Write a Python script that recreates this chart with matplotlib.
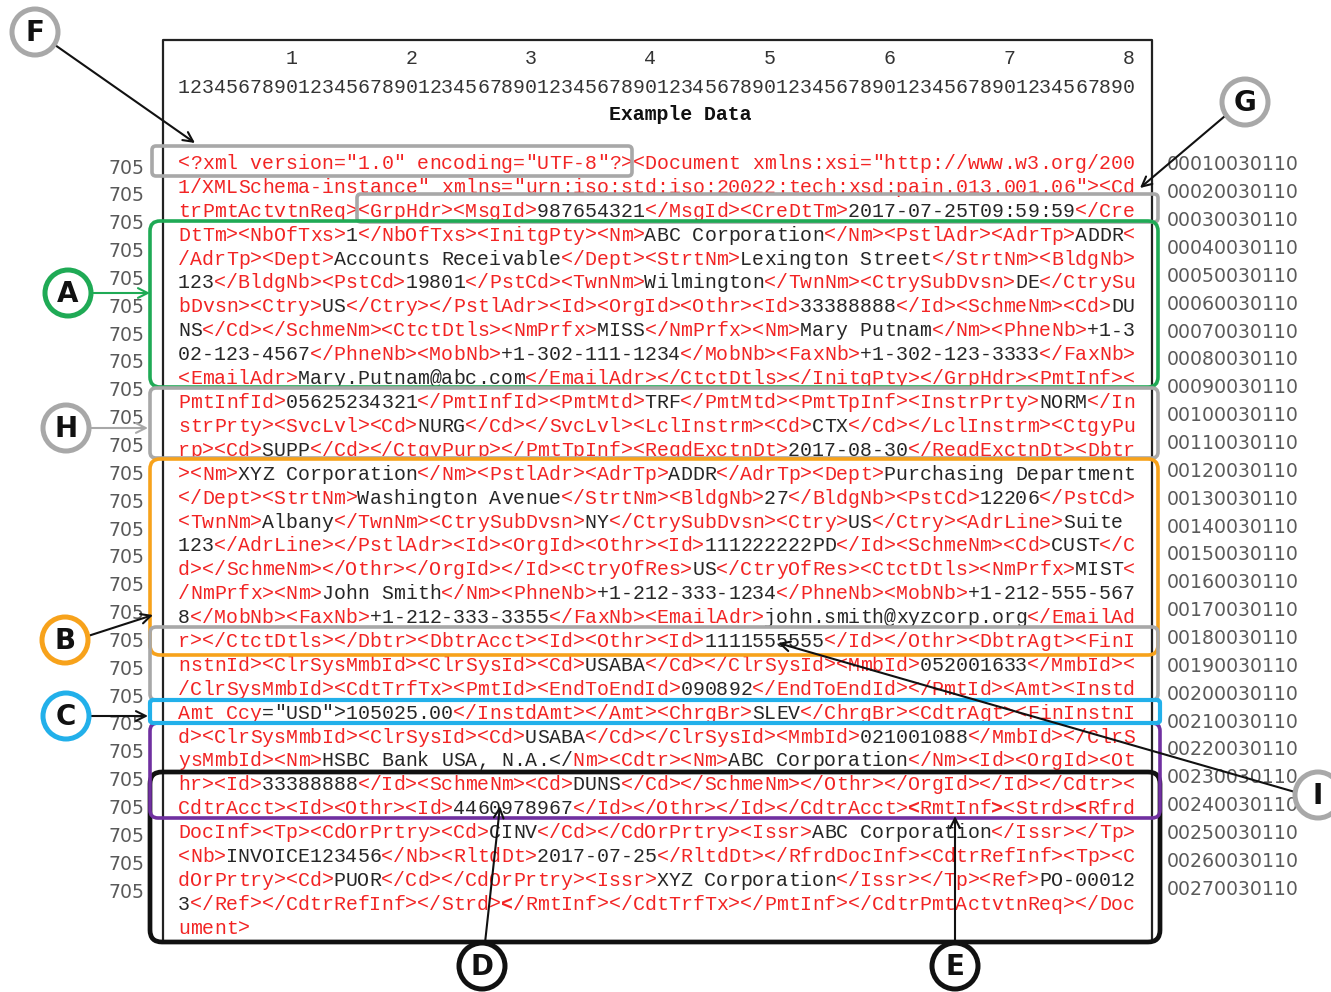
import matplotlib.pyplot as plt
from matplotlib.patches import FancyBboxPatch, Circle

# xml message, 80 columns per line
xml_lines = [
    '<?xml version="1.0" encoding="UTF-8"?><Document xmlns:xsi="http://www.w3.org/200',
    '1/XMLSchema-instance" xmlns="urn:iso:std:iso:20022:tech:xsd:pain.013.001.06"><Cd',
    'trPmtActvtnReq><GrpHdr><MsgId>987654321</MsgId><CreDtTm>2017-07-25T09:59:59</Cre',
    'DtTm><NbOfTxs>1</NbOfTxs><InitgPty><Nm>ABC Corporation</Nm><PstlAdr><AdrTp>ADDR<',
    '/AdrTp><Dept>Accounts Receivable</Dept><StrtNm>Lexington Street</StrtNm><BldgNb>',
    '123</BldgNb><PstCd>19801</PstCd><TwnNm>Wilmington</TwnNm><CtrySubDvsn>DE</CtrySu',
    'bDvsn><Ctry>US</Ctry></PstlAdr><Id><OrgId><Othr><Id>33388888</Id><SchmeNm><Cd>DU',
    'NS</Cd></SchmeNm><CtctDtls><NmPrfx>MISS</NmPrfx><Nm>Mary Putnam</Nm><PhneNb>+1-3',
    '02-123-4567</PhneNb><MobNb>+1-302-111-1234</MobNb><FaxNb>+1-302-123-3333</FaxNb>',
    '<EmailAdr>Mary.Putnam@abc.com</EmailAdr></CtctDtls></InitgPty></GrpHdr><PmtInf><',
    'PmtInfId>05625234321</PmtInfId><PmtMtd>TRF</PmtMtd><PmtTpInf><InstrPrty>NORM</In',
    'strPrty><SvcLvl><Cd>NURG</Cd></SvcLvl><LclInstrm><Cd>CTX</Cd></LclInstrm><CtgyPu',
    'rp><Cd>SUPP</Cd></CtgyPurp></PmtTpInf><ReqdExctnDt>2017-08-30</ReqdExctnDt><Dbtr',
    '><Nm>XYZ Corporation</Nm><PstlAdr><AdrTp>ADDR</AdrTp><Dept>Purchasing Department',
    '</Dept><StrtNm>Washington Avenue</StrtNm><BldgNb>27</BldgNb><PstCd>12206</PstCd>',
    '<TwnNm>Albany</TwnNm><CtrySubDvsn>NY</CtrySubDvsn><Ctry>US</Ctry><AdrLine>Suite',
    '123</AdrLine></PstlAdr><Id><OrgId><Othr><Id>111222222PD</Id><SchmeNm><Cd>CUST</C',
    'd></SchmeNm></Othr></OrgId></Id><CtryOfRes>US</CtryOfRes><CtctDtls><NmPrfx>MIST<',
    '/NmPrfx><Nm>John Smith</Nm><PhneNb>+1-212-333-1234</PhneNb><MobNb>+1-212-555-567',
    '8</MobNb><FaxNb>+1-212-333-3355</FaxNb><EmailAdr>john.smith@xyzcorp.org</EmailAd',
    'r></CtctDtls></Dbtr><DbtrAcct><Id><Othr><Id>1111555555</Id></Othr><DbtrAgt><FinI',
    'nstnId><ClrSysMmbId><ClrSysId><Cd>USABA</Cd></ClrSysId><MmbId>052001633</MmbId><',
    '/ClrSysMmbId><CdtTrfTx><PmtId><EndToEndId>090892</EndToEndId></PmtId><Amt><Instd',
    'Amt Ccy="USD">105025.00</InstdAmt></Amt><ChrgBr>SLEV</ChrgBr><CdtrAgt><FinInstnI',
    'd><ClrSysMmbId><ClrSysId><Cd>USABA</Cd></ClrSysId><MmbId>021001088</MmbId></ClrS',
    'ysMmbId><Nm>HSBC Bank USA, N.A.</Nm><Cdtr><Nm>ABC Corporation</Nm><Id><OrgId><Ot',
    'hr><Id>33388888</Id><SchmeNm><Cd>DUNS</Cd></SchmeNm></Othr></OrgId></Id></Cdtr><',
    'CdtrAcct><Id><Othr><Id>4460978967</Id></Othr></Id></CdtrAcct><RmtInf><Strd><Rfrd',
    'DocInf><Tp><CdOrPrtry><Cd>CINV</Cd></CdOrPrtry><Issr>ABC Corporation</Issr></Tp>',
    '<Nb>INVOICE123456</Nb><RltdDt>2017-07-25</RltdDt></RfrdDocInf><CdtrRefInf><Tp><C',
    'dOrPrtry><Cd>PUOR</Cd></CdOrPrtry><Issr>XYZ Corporation</Issr></Tp><Ref>PO-00012',
    '3</Ref></CdtrRefInf></Strd></RmtInf></CdtTrfTx></PmtInf></CdtrPmtActvtnReq></Doc',
    'ument>',
]

left_codes = ['705'] * 27
right_codes = ['%04d0030110' % n for n in range(1, 28)]
column_ruler = '1234567890' * 8
column_tens = ['1', '2', '3', '4', '5', '6', '7', '8']
title = 'Example Data'

RED = '#f22424'
INK = '#262626'
GRAY = '#a8a8a8'

# layout in pixels
X0, CW = 178, 11.96
Y0, LH = 169, 23.9
FS = CW / 0.6 * 72 / 100

fig = plt.figure(figsize=(13.31, 9.92), dpi=100)
ax = fig.add_axes([0, 0, 1, 1])
ax.set_xlim(0, 1331)
ax.set_ylim(992, 0)
ax.axis('off')

# colour every character: tags red, content black
full = ''.join(xml_lines)
colors = []
in_tag = False
for ch in full:
    if ch == '<':
        in_tag = True
    colors.append(RED if in_tag else INK)
    if ch == '>':
        in_tag = False

offsets = [0]
for ln in xml_lines:
    offsets.append(offsets[-1] + len(ln))

def setcol(line, start, stop, c):
    for k in range(start, stop):
        colors[offsets[line] + k] = c

s = xml_lines[23].index('="USD">')
setcol(23, s, s + 7, INK)
s = xml_lines[25].index('</Nm><Cdtr>')
setcol(25, s, s + 2, INK)

bold = set()
s = xml_lines[27].index('<RmtInf>')
bold.update([(27, s), (27, s + 7), (27, xml_lines[27].index('<Rfrd'))])
bold.add((31, xml_lines[31].index('</RmtInf>')))

def mono_row(txt, y, color, x0=X0, weight='normal'):
    # one glyph per column so the grid stays exact
    for k, ch in enumerate(txt):
        if ch == ' ':
            continue
        c = color[k] if isinstance(color, list) else color
        w = weight[k] if isinstance(weight, list) else weight
        ax.text(x0 + (k + 0.5) * CW, y, ch, fontsize=FS, family='Liberation Mono',
                color=c, fontweight=w, ha='center', va='baseline')

for i, ln in enumerate(xml_lines):
    cols = colors[offsets[i]:offsets[i + 1]]
    wts = ['bold' if (i, k) in bold else 'normal' for k in range(len(ln))]
    mono_row(ln, Y0 + i * LH, cols, weight=wts)

# header
mono_row(column_ruler, 93, '#333333')
for j, d in enumerate(column_tens):
    ax.text(X0 + (10 * j + 9.5) * CW, 64, d, fontsize=FS, family='Liberation Mono',
            color='#333333', ha='center', va='baseline')
ax.text(680, 120, title, fontsize=FS, family='Liberation Mono', fontweight='bold',
        color='#111111', ha='center', va='baseline')

# side codes
for j, code in enumerate(left_codes):
    ax.text(127, 168 + j * 27.85, code, fontsize=13.6, family='DejaVu Sans',
            color='#5a5a5a', ha='center', va='center')
for j, code in enumerate(right_codes):
    ax.text(1233, 165 + j * 27.85, code, fontsize=13.6, family='DejaVu Sans',
            color='#5a5a5a', ha='center', va='center')

# outer frame
ax.plot([163, 163, 1152, 1152], [942, 40, 40, 942], color='#222222', lw=1.6, zorder=2)

def box(x1, y1, x2, y2, c, lw=2.6, r=8):
    ax.add_patch(FancyBboxPatch((x1, y1), x2 - x1, y2 - y1,
                                boxstyle='round,pad=0,rounding_size=%d' % r,
                                fill=False, ec=c, lw=lw, zorder=3))

box(152, 146, 632, 176, GRAY, r=4)
box(357, 194, 1158, 222, GRAY, r=4)
box(150, 221, 1158, 387, '#1faa55', r=10)
box(150, 388, 1158, 458, GRAY, r=6)
box(150, 459, 1158, 655, '#f7a21b', r=10)
box(150, 627, 1158, 700, GRAY, r=6)
box(150, 772, 1160, 942, '#111111', lw=3.4, r=12)
box(150, 723, 1160, 818, '#7030a0', r=8)
box(150, 700, 1160, 723, '#22b0ea', lw=3.0, r=3)

def marker(cx, cy, letter, c, end, start, ac='#111111'):
    ax.annotate('', xy=end, xytext=start,
                arrowprops=dict(arrowstyle='->,head_length=0.7,head_width=0.35',
                                color=ac, lw=1.5, shrinkA=0, shrinkB=0), zorder=4)
    ax.add_patch(Circle((cx, cy), 23, fc='white', ec=c, lw=3.6, zorder=5))
    ax.text(cx, cy + 1, letter, fontsize=20, fontweight='bold', family='DejaVu Sans',
            color='#111111', ha='center', va='center', zorder=6)

marker(35, 32, 'F', GRAY, (195, 143), (55, 45))
marker(1245, 102, 'G', GRAY, (1140, 188), (1225, 116))
marker(68, 293, 'A', '#1faa55', (150, 293), (91, 293), ac='#1faa55')
marker(66, 428, 'H', GRAY, (148, 428), (89, 428), ac=GRAY)
marker(65, 640, 'B', '#f7a21b', (153, 615), (88, 636))
marker(66, 716, 'C', '#22b0ea', (148, 716), (89, 716))
marker(482, 966, 'D', '#111111', (500, 806), (485, 943))
marker(955, 966, 'E', '#111111', (955, 816), (955, 943))
marker(1318, 795, 'I', GRAY, (778, 643), (1295, 792))

fig.savefig('out.png', dpi=100)
